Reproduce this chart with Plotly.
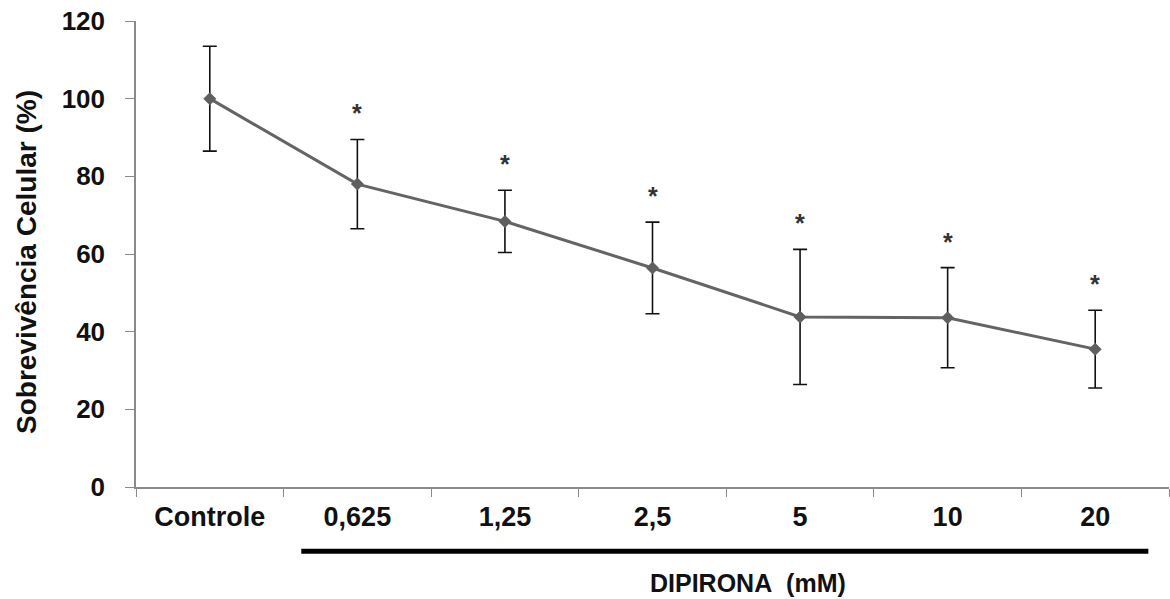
import plotly.graph_objects as go

categories = ["Controle", "0,625", "1,25", "2,5", "5", "10", "20"]
survival = [100.0, 78.0, 68.4, 56.4, 43.8, 43.6, 35.5]
sd = [13.5, 11.5, 8.0, 11.8, 17.4, 12.9, 10.0]
significant = [False, True, True, True, True, True, True]
y_ticks = [0, 20, 40, 60, 80, 100, 120]

FONT = "Liberation Sans, Arial, sans-serif"

fig = go.Figure()
fig.add_trace(go.Scatter(
    x=categories, y=survival,
    mode="lines+markers",
    line=dict(color="#646464", width=3),
    marker=dict(symbol="diamond", size=10, color="#5f5f5f"),
    error_y=dict(type="data", array=sd, visible=True, color="#111111",
                 thickness=1.6, width=7),
    showlegend=False,
))

for i, (m, s, sig) in enumerate(zip(survival, sd, significant)):
    if sig:
        fig.add_annotation(x=i, y=m + s, text="<b>*</b>", showarrow=False,
                           xref="x", yref="y", yanchor="middle", yshift=26,
                           font=dict(family=FONT, size=25, color="#333333"))

# Thick bar grouping the DIPIRONA concentrations
fig.add_shape(type="line", xref="x", yref="paper",
              x0=0.62, x1=6.36, y0=-0.138, y1=-0.138,
              line=dict(color="black", width=5))
fig.add_annotation(text="<b>DIPIRONA&nbsp;&nbsp;(mM)</b>", xref="x", yref="paper",
                   x=3.65, y=-0.206, showarrow=False, yanchor="middle",
                   font=dict(family=FONT, size=25, color="#111111"))

# Y axis title
fig.add_annotation(text="<b>Sobrevivência Celular (%)</b>", xref="paper", yref="paper",
                   x=-0.1055, y=0.483, xanchor="center", yanchor="middle",
                   textangle=-90, showarrow=False,
                   font=dict(family=FONT, size=28, color="#111111"))

fig.update_layout(
    width=1170, height=599,
    margin=dict(l=136, r=1, t=21, b=112),
    plot_bgcolor="white", paper_bgcolor="white",
    font=dict(family=FONT, color="#111111"),
)
fig.update_xaxes(
    type="category", range=[-0.5, len(categories) - 0.5],
    tickson="boundaries", ticks="outside", ticklen=8, tickangle=0,
    tickcolor="#8a8a8a", tickwidth=1.3,
    showline=True, linecolor="#8a8a8a", linewidth=1.5,
    showgrid=False, zeroline=False,
    tickfont=dict(family=FONT, size=27, color="#111111", weight="bold"),
    ticklabelstandoff=5,
)
fig.update_yaxes(
    range=[0, 120], tickvals=y_ticks, ticktext=[str(v) for v in y_ticks],
    ticks="outside", ticklen=9, tickcolor="#8a8a8a", tickwidth=1.3,
    showline=True, linecolor="#8a8a8a", linewidth=1.5,
    showgrid=False, zeroline=False,
    tickfont=dict(family=FONT, size=26, color="#111111", weight="bold"),
    ticklabelstandoff=15,
)

fig.write_html("out.html")
